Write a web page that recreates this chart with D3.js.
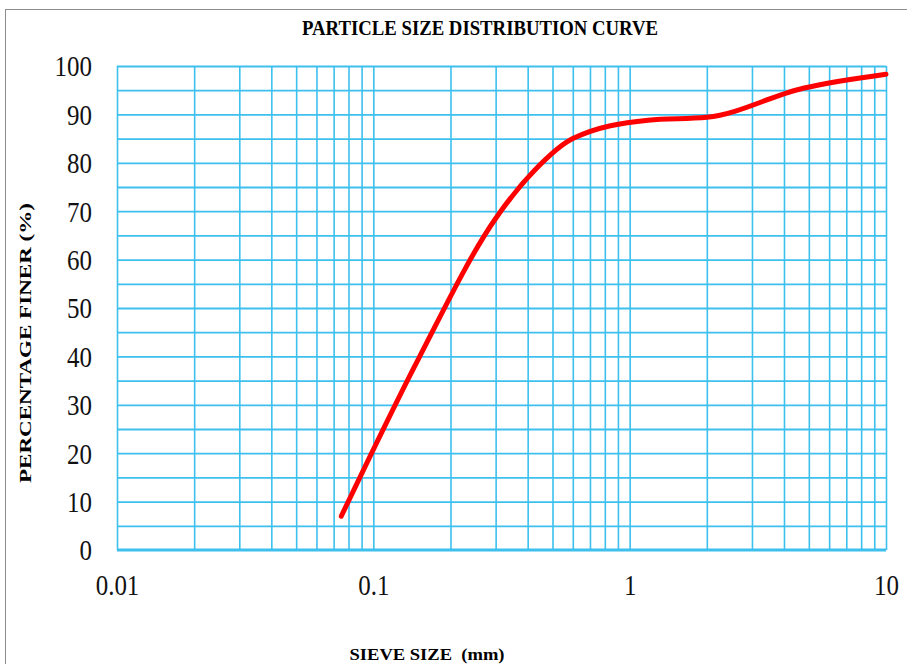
<!DOCTYPE html>
<html>
<head>
<meta charset="utf-8">
<script src="https://cdn.jsdelivr.net/npm/d3@7"></script>
<style>
  body { margin: 0; background: #fff; }
  svg { display: block; }
</style>
</head>
<body>
<svg id="chart" width="907" height="664"></svg>
<script>
// sieve analysis readings
const sieveSizes = [0.075, 0.15, 0.3, 0.425, 0.6, 1.18, 2, 4.75, 10]
const percentFiner = [7, 39.5, 68.5, 78.4, 85, 88.8, 89.4, 95.4, 98.3]

const xTickValues = [0.01, 0.1, 1, 10]
const xTickLabels = ['0.01', '0.1', '1', '10']
const yTickValues = [0, 10, 20, 30, 40, 50, 60, 70, 80, 90, 100]

const W = 907, H = 664
const margin = { top: 66, right: 21, bottom: 114, left: 117 }
const width = W - margin.left - margin.right
const height = H - margin.top - margin.bottom
const gridColor = '#3dc0ee'
const serif = '"Liberation Serif", "Times New Roman", serif'

const svg = d3.select('#chart')

// outer frame (only left/top edges show)
svg.append('rect')
  .attr('x', 5.5).attr('y', 9.5)
  .attr('width', 1000).attr('height', 1000)
  .style('fill', 'none')
  .style('stroke', '#8c8c8c')
  .style('stroke-width', 1)

const xScale = d3.scaleLog()
  .domain([0.01, 10])
  .range([0, width])

const yScale = d3.scaleLinear()
  .domain([0, 100])
  .range([height, 0])

const g = svg.append('g')
  .attr('transform', `translate(${margin.left},${margin.top})`)

// vertical grid: 1..9 in every decade
const xGridValues = []
for (let p = -2; p <= 0; p++) {
  for (let m = 1; m <= 9; m++) xGridValues.push(+(m * Math.pow(10, p)).toPrecision(3))
}
xGridValues.push(10)

g.append('g')
  .call(d3.axisBottom(xScale).tickValues(xGridValues).tickSize(height).tickFormat(''))
  .call(a => a.select('.domain').remove())
  .call(a => a.selectAll('line').style('stroke', gridColor).style('stroke-width', 1.6))

// horizontal grid every 5 %
g.append('g')
  .call(d3.axisLeft(yScale).tickValues(d3.range(5, 101, 5)).tickSize(-width).tickFormat(''))
  .call(a => a.select('.domain').remove())
  .call(a => a.selectAll('line').style('stroke', gridColor).style('stroke-width', 1.8))

// base line at 0
g.append('line')
  .attr('x1', 0).attr('x2', width)
  .attr('y1', yScale(0)).attr('y2', yScale(0))
  .style('stroke', gridColor)
  .style('stroke-width', 3.2)

// y axis labels
g.append('g')
  .call(d3.axisLeft(yScale).tickValues(yTickValues).tickSize(0).tickPadding(25))
  .call(a => a.select('.domain').remove())
  .call(a => a.selectAll('text')
    .style('font-family', serif)
    .style('font-size', '29px')
    .style('fill', '#111')
    .attr('dy', '0.34em')
    .attr('textLength', function () { return this.getComputedTextLength() * 0.86 })
    .attr('lengthAdjust', 'spacingAndGlyphs'))

// x axis labels
g.append('g')
  .attr('transform', `translate(0,${height})`)
  .call(d3.axisBottom(xScale).tickValues(xTickValues).tickSize(0).tickPadding(24)
    .tickFormat((d, i) => xTickLabels[i]))
  .call(a => a.select('.domain').remove())
  .call(a => a.selectAll('text')
    .style('font-family', serif)
    .style('font-size', '29px')
    .style('fill', '#111')
    .attr('textLength', function () { return this.getComputedTextLength() * 0.86 })
    .attr('lengthAdjust', 'spacingAndGlyphs'))

// grading curve
const line = d3.line()
  .x(d => xScale(d[0]))
  .y(d => yScale(d[1]))
  .curve(d3.curveMonotoneX)

g.append('path')
  .datum(d3.zip(sieveSizes, percentFiner))
  .attr('d', line)
  .style('fill', 'none')
  .style('stroke', '#ff0000')
  .style('stroke-width', 5)
  .style('stroke-linecap', 'round')
  .style('stroke-linejoin', 'round')

// titles
svg.append('text')
  .attr('x', 480).attr('y', 35)
  .attr('text-anchor', 'middle')
  .attr('textLength', 356)
  .attr('lengthAdjust', 'spacingAndGlyphs')
  .style('font-family', serif)
  .style('font-weight', 'bold')
  .style('font-size', '20px')
  .text('PARTICLE SIZE DISTRIBUTION CURVE')

svg.append('text')
  .attr('x', 427).attr('y', 660)
  .attr('text-anchor', 'middle')
  .attr('textLength', 155)
  .attr('lengthAdjust', 'spacingAndGlyphs')
  .style('font-family', serif)
  .style('font-weight', 'bold')
  .style('font-size', '17px')
  .style('white-space', 'pre')
  .text('SIEVE SIZE  (mm)')

svg.append('text')
  .attr('transform', 'translate(31,343) rotate(-90)')
  .attr('text-anchor', 'middle')
  .attr('textLength', 280)
  .attr('lengthAdjust', 'spacingAndGlyphs')
  .style('font-family', serif)
  .style('font-weight', 'bold')
  .style('font-size', '17px')
  .text('PERCENTAGE FINER (%)')
</script>
</body>
</html>
